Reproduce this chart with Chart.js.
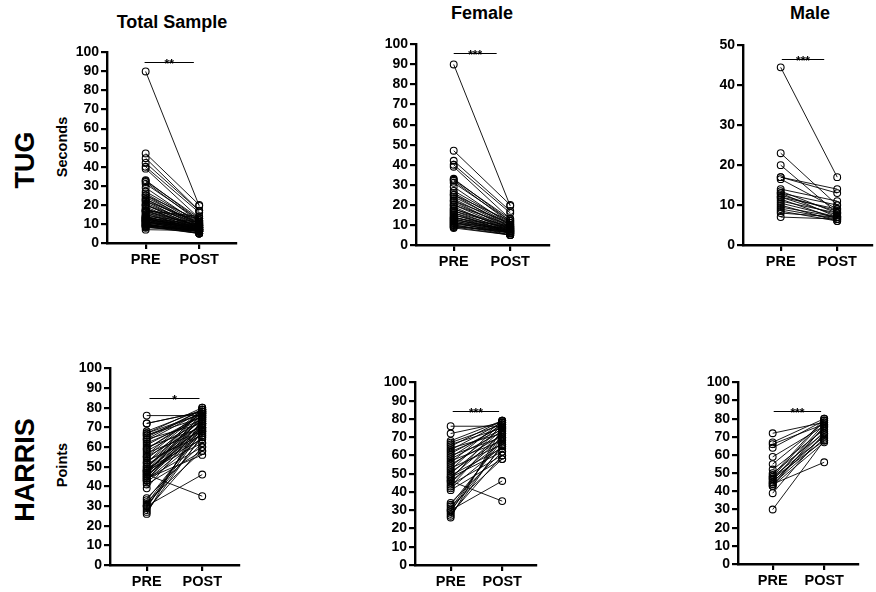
<!DOCTYPE html>
<html>
<head>
<meta charset="utf-8">
<script src="https://cdn.jsdelivr.net/npm/chart.js@4.4.0/dist/chart.umd.min.js"></script>
<style>
  html, body { margin: 0; padding: 0; background: #fff; }
  body { width: 876px; height: 592px; position: relative; overflow: hidden; font-family: "Liberation Sans", Arial, sans-serif; }
  .panel { position: absolute; }
  .lbl { position: absolute; font-weight: bold; color: #000; white-space: nowrap; transform: translate(-50%, -50%); }
  .rot { transform: translate(-50%, -50%) rotate(-90deg); }
</style>
</head>
<body>
<div class="lbl" style="left:172px; top:22px; font-size:18px;">Total Sample</div>
<div class="lbl" style="left:482px; top:13px; font-size:18px;">Female</div>
<div class="lbl" style="left:810px; top:13px; font-size:18px;">Male</div>
<div class="lbl rot" style="left:25px; top:160px; font-size:27px;">TUG</div>
<div class="lbl rot" style="left:25px; top:470px; font-size:27px;">HARRIS</div>
<div class="lbl rot" style="left:62px; top:147px; font-size:14.5px;">Seconds</div>
<div class="lbl rot" style="left:62px; top:465px; font-size:14.5px;">Points</div>

<div class="panel" id="p-tug-total"><canvas id="c-tug-total"></canvas></div>
<div class="panel" id="p-tug-female"><canvas id="c-tug-female"></canvas></div>
<div class="panel" id="p-tug-male"><canvas id="c-tug-male"></canvas></div>
<div class="panel" id="p-harris-total"><canvas id="c-harris-total"></canvas></div>
<div class="panel" id="p-harris-female"><canvas id="c-harris-female"></canvas></div>
<div class="panel" id="p-harris-male"><canvas id="c-harris-male"></canvas></div>

<script>
// --- data ---
const timeLabels = ['PRE', 'POST'];

const tugFemalePre = [90, 47, 42, 40, 39, 33, 32.5, 32, 31, 29, 27, 26, 25, 25, 24, 23, 22, 22, 21, 20, 20, 19, 18, 18,
  17, 17, 16, 16, 15, 15, 14, 14, 13.5, 13, 13, 12.5, 12, 12, 11.5, 11, 11, 10.5, 10, 10, 9.5, 9, 9, 8.5];
const tugFemalePost = [19.5, 20, 17, 16, 13, 12, 13, 11, 12, 10, 11, 10, 12, 9, 10, 9, 11, 8, 9, 10, 8, 7, 9, 8,
  7, 9, 8, 6, 7, 8, 7, 6, 9, 7, 6, 8, 6, 7, 5, 6, 8, 7, 5, 6, 6, 5, 7, 5];

const tugMalePre = [44.5, 23, 20, 17, 17, 16.5, 14, 13.5, 13, 13, 12.5, 12, 12, 11.5, 11, 10.5, 10, 9.5, 9, 8.5, 8, 7];
const tugMalePost = [17, 10, 8, 14, 13, 9, 11, 8, 10, 7, 8.5, 7.5, 9, 6.5, 8, 7, 6, 7, 6.5, 6, 7, 6.5];

const harrisFemalePre = [76, 72, 68, 67, 66, 65, 64, 63, 62, 61, 60, 59, 58, 57, 56, 55, 54, 53, 52, 51, 50, 49, 48, 48,
  47, 46, 46, 45, 44, 43, 42, 41, 34, 33, 32, 31, 30, 30, 29, 28, 27, 26];
const harrisFemalePost = [76, 78, 79, 77, 75, 79, 72, 78, 74, 76, 70, 77, 73, 68, 79, 71, 75, 66, 78, 69, 74, 64, 72, 62,
  77, 35, 67, 70, 60, 73, 65, 58, 62, 68, 58, 70, 46, 65, 72, 60, 66, 75];

const harrisMalePre = [72, 67, 66, 64, 59, 55, 52, 50, 49, 48, 48, 47, 47, 46, 45, 45, 44, 44, 43, 43, 39, 30];
const harrisMalePost = [78, 80, 77, 79, 76, 78, 74, 72, 80, 70, 79, 75, 68, 77, 71, 73, 56, 69, 76, 67, 72, 68];

// total sample = both groups together
const tugTotalPre = tugFemalePre.concat(tugMalePre);
const tugTotalPost = tugFemalePost.concat(tugMalePost);
const harrisTotalPre = harrisFemalePre.concat(harrisMalePre);
const harrisTotalPost = harrisFemalePost.concat(harrisMalePost);

// --- layout ---
const AXIS_W = 46;
const AXIS_H = 32;
const PAD_TOP = 10;
const PAD_RIGHT = 4;
const FONT = '"Liberation Sans", Arial, sans-serif';

const panels = [
  { id: 'tug-total', pre: tugTotalPre, post: tugTotalPost, yMax: 100, axisX: 107, yTop: 52, yBottom: 243, xRight: 237, xMin: 0.278, xMax: 2.685, sig: { at: 94.8, from: 0.98, to: 1.9, stars: '**' } },
  { id: 'tug-female', pre: tugFemalePre, post: tugFemalePost, yMax: 100, axisX: 416, yTop: 44, yBottom: 245, xRight: 550, xMin: 0.333, xMax: 2.684, sig: { at: 95.5, from: 1.0, to: 1.76, stars: '***' } },
  { id: 'tug-male', pre: tugMalePre, post: tugMalePost, yMax: 50, axisX: 743, yTop: 45, yBottom: 245, xRight: 873, xMin: 0.333, xMax: 2.614, sig: { at: 46.7, from: 1.02, to: 1.77, stars: '***' } },
  { id: 'harris-total', pre: harrisTotalPre, post: harrisTotalPost, yMax: 100, axisX: 110, yTop: 368, yBottom: 565, xRight: 240, xMin: 0.339, xMax: 2.66, sig: { at: 84.8, from: 1.05, to: 1.95, stars: '*' } },
  { id: 'harris-female', pre: harrisFemalePre, post: harrisFemalePost, yMax: 100, axisX: 415, yTop: 382, yBottom: 565, xRight: 537, xMin: 0.308, xMax: 2.654, sig: { at: 84.2, from: 1.04, to: 1.94, stars: '***' } },
  { id: 'harris-male', pre: harrisMalePre, post: harrisMalePost, yMax: 100, axisX: 738, yTop: 382, yBottom: 564, xRight: 859, xMin: 0.327, xMax: 2.654, sig: { at: 84.2, from: 1.02, to: 1.94, stars: '***' } }
];

// draws the significance bar and stars above the pairs
const sigPlugin = {
  id: 'sig',
  afterDatasetsDraw(chart, args, opts) {
    if (!opts || !opts.stars) return;
    const { ctx } = chart;
    const xs = chart.scales.x;
    const ys = chart.scales.y;
    const x1 = xs.getPixelForValue(opts.from);
    const x2 = xs.getPixelForValue(opts.to);
    const yy = Math.round(ys.getPixelForValue(opts.at)) + 0.5;
    ctx.save();
    ctx.strokeStyle = '#000';
    ctx.lineWidth = 1;
    ctx.beginPath();
    ctx.moveTo(x1, yy);
    ctx.lineTo(x2, yy);
    ctx.stroke();
    ctx.fillStyle = '#000';
    ctx.font = 'bold 12px ' + FONT;
    ctx.textAlign = 'center';
    ctx.textBaseline = 'alphabetic';
    ctx.fillText(opts.stars, (x1 + x2) / 2, yy + 5);
    ctx.restore();
  }
};

function axisStyle() {
  return {
    grid: { display: true, drawOnChartArea: false, drawTicks: true, tickLength: 6, color: '#000', lineWidth: 2.2 },
    border: { display: true, color: '#000', width: 2.4 }
  };
}

function buildPanel(p) {
  const box = document.getElementById('p-' + p.id);
  const canvas = document.getElementById('c-' + p.id);
  const w = AXIS_W + (p.xRight - p.axisX) + PAD_RIGHT;
  const h = PAD_TOP + (p.yBottom - p.yTop) + AXIS_H;
  box.style.left = (p.axisX - AXIS_W) + 'px';
  box.style.top = (p.yTop - PAD_TOP) + 'px';
  canvas.width = w;
  canvas.height = h;
  canvas.style.width = w + 'px';
  canvas.style.height = h + 'px';

  const datasets = p.pre.map((v, i) => ({
    data: [{ x: 1, y: v }, { x: 2, y: p.post[i] }],
    borderColor: '#000',
    borderWidth: 0.9,
    pointRadius: 3.4,
    pointBorderWidth: 1.1,
    pointBorderColor: '#000',
    pointBackgroundColor: 'rgba(255,255,255,0)',
    fill: false,
    tension: 0
  }));

  new Chart(canvas, {
    type: 'line',
    data: { datasets },
    options: {
      responsive: false,
      animation: false,
      layout: { padding: { top: PAD_TOP, right: PAD_RIGHT, left: 0, bottom: 0 } },
      plugins: { legend: { display: false }, tooltip: { enabled: false }, sig: p.sig },
      scales: {
        x: {
          type: 'linear',
          min: p.xMin,
          max: p.xMax,
          afterBuildTicks: (s) => { s.ticks = [{ value: 1 }, { value: 2 }]; },
          afterFit: (s) => { s.height = AXIS_H; },
          ticks: {
            callback: (v) => timeLabels[Math.round(v) - 1],
            color: '#000',
            font: { size: 14.5, weight: 'bold', family: FONT },
            padding: 2,
            autoSkip: false,
            maxRotation: 0
          },
          ...axisStyle()
        },
        y: {
          min: 0,
          max: p.yMax,
          afterFit: (s) => { s.width = AXIS_W; },
          ticks: {
            stepSize: 10,
            autoSkip: false,
            color: '#000',
            font: { size: 14, weight: 'bold', family: FONT },
            padding: 2
          },
          ...axisStyle()
        }
      }
    },
    plugins: [sigPlugin]
  });
}

panels.forEach(buildPanel);
</script>
</body>
</html>
